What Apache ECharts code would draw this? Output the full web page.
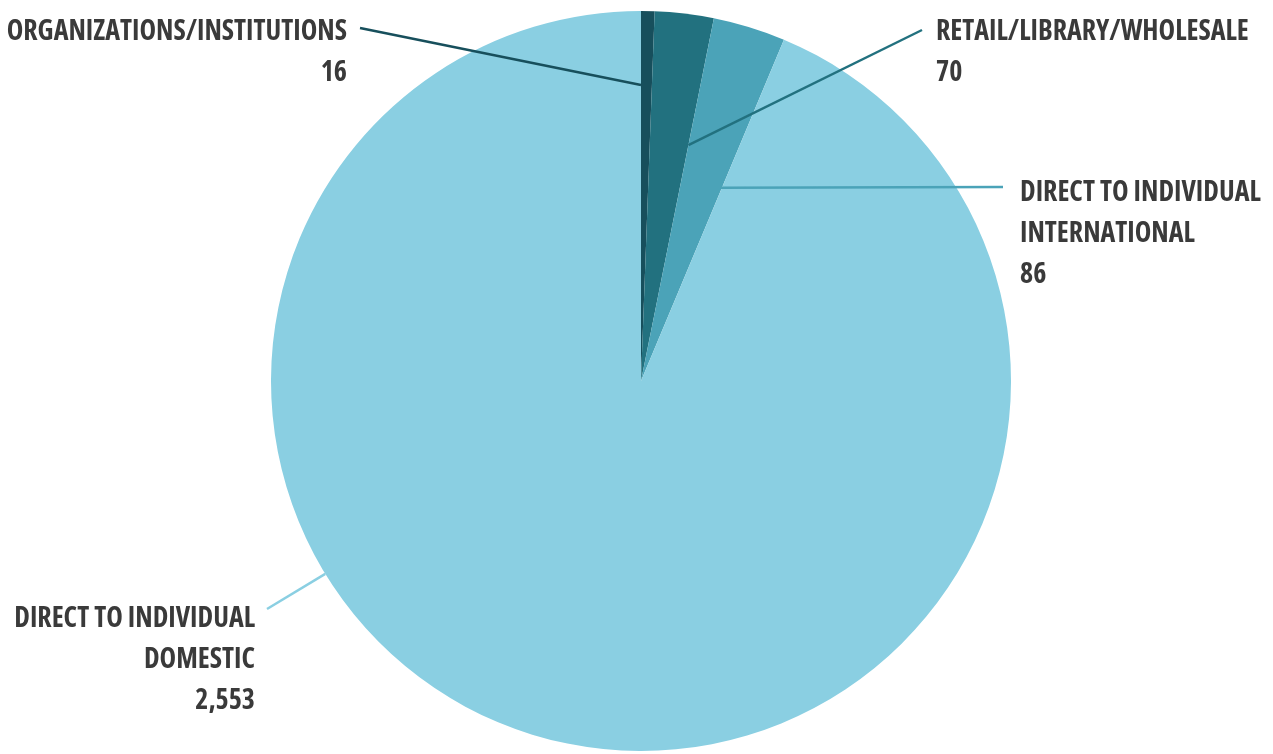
<!DOCTYPE html>
<html>
<head>
<meta charset="utf-8">
<script src="https://cdn.jsdelivr.net/npm/echarts@6/dist/echarts.min.js"></script>
<style>
  html, body { margin: 0; padding: 0; background: #fff; }
  #chart { width: 1273px; height: 754px; }
</style>
</head>
<body>
<div id="chart"></div>
<script>
// slices, clockwise from 12 o'clock
const names = [
  'ORGANIZATIONS/INSTITUTIONS',
  'RETAIL/LIBRARY/WHOLESALE',
  'DIRECT TO INDIVIDUAL\nINTERNATIONAL',
  'DIRECT TO INDIVIDUAL\nDOMESTIC'
]
const values = [16, 70, 86, 2553]
const colors = ['#174f5c', '#22717f', '#4ba3b8', '#8acfe2']

const center = [641, 381]
const radius = 370

// where each label sits and where its line touches the pie
// (angle as fraction across the slice, radius as fraction of pie radius)
const labelPos = [
  { x: 347, y: 12, align: 'right', lineEnd: [360, 28], at: 0.0, r: 0.8 },
  { x: 936, y: 12, align: 'left', lineEnd: [922, 30], at: 1.0, r: 0.65 },
  { x: 1020, y: 173, align: 'left', lineEnd: [1003, 187], at: 0.97, r: 0.565 },
  { x: 255, y: 599, align: 'right', lineEnd: [267, 609], at: 0.64, r: 1.0 }
]

const total = values.reduce((a, b) => a + b, 0)

function anchor(i) {
  let before = 0
  for (let k = 0; k < i; k++) before += values[k]
  const a = (before + values[i] * labelPos[i].at) / total * Math.PI * 2
  const r = radius * labelPos[i].r
  return [center[0] + r * Math.sin(a), center[1] - r * Math.cos(a)]
}

const base = {
  type: 'pie',
  center: center,
  radius: radius,
  startAngle: 90,
  clockwise: true,
  emphasis: { disabled: true }
}

const chart = echarts.init(document.getElementById('chart'))
chart.setOption({
  animation: false,
  series: [
    Object.assign({}, base, {
      z: 2,
      label: { show: false },
      labelLine: { show: false },
      data: names.map((n, i) => ({ name: n, value: values[i], itemStyle: { color: colors[i] } }))
    }),
    // transparent copy on top so the label lines are drawn over the slices
    Object.assign({}, base, {
      z: 3,
      silent: true,
      itemStyle: { color: 'rgba(0,0,0,0)' },
      data: names.map((n, i) => ({
        name: n,
        value: values[i],
        labelLine: { lineStyle: { color: colors[i] } }
      })),
      label: {
        show: true,
        formatter: p => p.name + '\n' + p.value.toLocaleString('en-US'),
        color: '#3a3a3a',
        fontFamily: '"Open Sans", sans-serif',
        fontWeight: 'bold condensed',
        fontSize: 28,
        lineHeight: 41,
        overflow: 'none'
      },
      labelLine: {
        show: true,
        smooth: false,
        lineStyle: { width: 2.5 }
      },
      labelLayout: p => {
        const l = labelPos[p.dataIndex]
        const s = anchor(p.dataIndex)
        return {
          x: l.x,
          y: l.y,
          align: l.align,
          verticalAlign: 'top',
          labelLinePoints: [s, l.lineEnd, l.lineEnd]
        }
      }
    })
  ]
})
</script>
</body>
</html>
